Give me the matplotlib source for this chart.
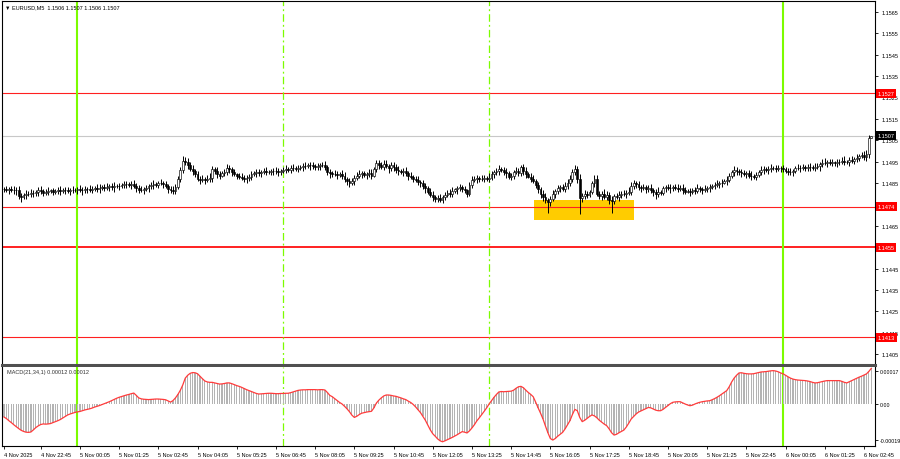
import matplotlib
matplotlib.use("Agg")
import matplotlib.pyplot as plt
import numpy as np
from matplotlib.patches import Rectangle
import matplotlib.transforms as mtransforms

plt.rcParams['font.family'] = ['Liberation Sans', 'DejaVu Sans']

# ---------------- data ----------------
BASE = 1.1400          # closes below are in 1e-5 above BASE
WICK_UNIT = 2.2e-5     # wick extensions are in this unit
first_open = 822
closes_pts = [
    820, 818, 822, 819, 816, 818,
    790, 785, 795, 800,
    798, 805, 802, 810, 815, 812, 805, 808, 812, 815, 810, 813, 816, 814, 818, 815, 812, 816, 819, 815, 820,
    818, 815, 820, 822, 819, 824, 826, 823, 828, 830, 827, 832, 834, 830, 836, 838, 835, 840, 843, 845, 841, 846,
    838, 825, 818, 815, 822, 828,
    835, 840, 845, 842, 848, 850, 845, 838,
    822, 815, 812,
    830, 870, 910, 955,
    950, 935, 915, 905, 890, 870, 865,
    868, 862, 870, 875,
    915,
    905, 890, 885, 895, 900, 920, 915, 900,
    890, 885, 880, 875, 868, 872, 880, 890,
    895, 900, 898, 902, 905, 903, 900, 904, 907, 905, 902, 906,
    910, 915, 912, 918, 920, 916, 920,
    925, 930, 928, 935, 932, 928, 925, 930, 935, 932, 925,
    900, 895, 890, 893, 888, 892, 885,
    870, 860, 850, 858,
    875, 885, 890, 895, 888, 892, 898, 885,
    915, 945, 935,
    925, 940, 930, 918, 935, 925, 910, 905,
    900, 905, 895, 885, 880, 870, 862, 855, 848, 835, 825, 810, 795, 785,
    775, 780, 772, 785,
    795, 805, 800, 812, 820, 825, 830, 822, 815, 800,
    840, 865, 870, 872, 868, 870, 873, 870, 875,
    890, 900, 905, 915, 910, 900, 895,
    880, 885, 900, 905, 895,
    925,
    905, 890, 880, 870, 860,
    840, 820, 800, 785, 770,
    760, 775,
    800, 812, 825, 830, 822, 835,
    850, 870, 900, 915,
    870, 780,
    790, 800, 795, 810,
    850, 870,
    800, 790,
    800, 785, 795,
    770, 765,
    790, 785, 795, 800, 798, 805, 810,
    835, 850, 845,
    830, 825, 830, 822, 828,
    815, 808, 800, 810, 805,
    825, 830, 828, 825, 830, 826, 822, 828,
    815, 810, 812, 808, 815, 812, 825,
    820, 818, 822, 825,
    830, 835, 840, 845, 848, 852, 858, 865,
    885, 900, 910,
    905, 900, 895, 892, 895,
    885, 882, 880, 886,
    900, 910, 915, 912,
    915, 918, 920, 916, 918, 922, 915,
    905, 902, 900, 908,
    918, 922, 920, 924, 921, 925, 923, 920, 925, 928,
    940, 945, 942, 948, 944, 946, 943, 948, 950,
    955, 950, 948, 958, 955, 960,
    968, 975, 980, 972, 985, 1062, 1070,
]
hi_ext = [
    5,7,4,6,8,5,9,6,4,7,5,8,6,4,7,9,5,6,8,4,
    6,5,7,9,4,6,8,5,7,4,6,9,5,7,4,8,6,5,9,7,
    4,6,8,5,7,9,4,6,5,8,7,4,6,9,5,7,8,4,6,5,
    7,9,4,6,8,5,7,4,6,9,8,5,6,9,8,7,6,8,5,7,
    6,8,5,7,9,6,4,8,7,5,6,9,7,5,8,4,6,7,5,8,
    5,7,4,6,8,5,7,9,4,6,5,8,7,4,6,9,5,7,8,4,
    6,5,7,9,4,6,8,5,7,4,6,9,5,7,4,8,6,5,9,7,
    4,6,8,5,7,9,4,6,5,8,7,5,5,6,5,7,8,4,6,5,
    7,9,4,6,8,5,7,4,6,9,5,8,6,4,7,9,5,6,8,4,
    6,5,7,9,4,6,8,5,7,4,6,9,5,7,4,8,6,5,9,7,
    4,6,8,5,7,9,4,6,5,8,7,5,6,9,5,7,8,4,6,5,
    7,9,4,6,8,5,7,4,6,9,8,7,6,9,6,9,5,8,6,4,
    5,8,7,5,6,9,7,5,8,4,6,7,5,8,6,9,8,6,5,7,
    5,7,4,6,8,5,7,9,4,6,5,8,7,4,6,9,5,7,8,4,
    6,5,7,9,4,6,8,5,7,4,6,9,5,7,4,8,6,5,9,7,
    4,6,8,5,7,9,4,6,5,8,7,4,6,9,5,7,8,4,6,5,
    7,9,4,6,8,5,7,4,6,9,5,8,6,4,7,9,5,6,8,4,
    6,5,7,9,4,6,8,5,7,4,6,9,8,5,0,
]
lo_ext = [
    6,4,8,5,7,9,6,11,5,8,4,6,7,5,9,6,8,4,7,5,
    8,5,6,9,4,7,5,8,6,4,7,5,9,6,8,4,7,5,6,8,
    5,7,4,8,6,9,5,7,4,6,8,5,9,6,8,6,4,7,5,9,
    6,8,5,7,4,9,6,8,5,7,6,4,6,5,7,8,5,9,6,4,
    8,5,7,4,6,9,5,7,8,4,6,5,9,7,4,8,5,6,7,9,
    5,7,4,8,6,9,5,7,4,6,8,5,9,6,4,7,5,8,6,4,
    7,5,8,6,4,9,5,7,6,8,4,7,5,9,6,4,8,5,7,6,
    8,9,5,7,4,6,8,5,9,6,7,4,6,8,5,7,4,9,6,8,
    5,7,4,8,6,9,5,7,4,6,8,5,9,6,4,8,6,6,5,6,
    7,5,8,6,4,9,5,7,6,7,4,7,5,9,6,4,8,5,7,6,
    8,5,7,4,6,9,5,7,8,4,6,5,9,7,4,8,5,6,7,9,
    8,6,22,7,5,9,6,8,4,7,5,6,8,5,9,35,8,6,7,5,
    6,8,5,7,9,4,6,8,24,7,5,9,6,4,8,5,7,6,9,5,
    7,4,8,6,5,9,12,7,4,6,8,5,9,6,4,7,5,8,6,4,
    8,5,7,4,6,9,5,7,8,4,6,5,9,7,4,8,5,6,7,9,
    5,7,4,8,6,9,5,7,4,6,8,5,9,6,4,7,5,8,6,4,
    7,5,8,6,4,9,5,7,6,8,4,7,5,9,6,4,8,5,7,6,
    8,6,5,7,4,9,6,8,5,7,4,6,9,8,0,
]
# MACD(21,34,1) values in 1e-6
macd_u = [
    -68,-76,-87,-97,-108,-118,-128,-137,-143,-147,-148,-146,-135,-123,-114,-107,-104,-105,-104,-102,
    -97,-92,-87,-81,-73,-65,-57,-52,-48,-44,-41,-39,-35,-31,-28,-25,-21,-16,-12,-8,
    -3,2,7,12,18,24,30,35,39,43,47,50,54,57,45,32,27,25,24,23,
    24,25,26,26,25,24,22,16,10,18,32,50,72,100,135,150,160,164,163,158,
    145,132,120,115,113,113,110,107,104,105,107,110,110,106,101,96,92,87,81,75,
    70,65,60,55,52,53,54,55,56,56,55,54,54,55,55,56,56,59,63,67,
    71,73,74,74,75,75,75,75,74,75,75,73,60,45,38,28,18,8,0,-12,
    -25,-40,-58,-70,-64,-55,-48,-45,-42,-40,-38,-20,5,20,32,42,47,47,45,42,
    40,36,32,27,23,15,8,-2,-15,-30,-45,-65,-85,-110,-135,-155,-168,-182,-192,-197,
    -192,-186,-180,-174,-167,-160,-152,-144,-147,-151,-140,-125,-108,-88,-72,-55,-38,-20,0,18,
    35,50,63,65,64,65,66,67,72,82,90,92,85,72,60,50,38,10,-20,-48,
    -78,-115,-150,-180,-188,-180,-168,-158,-148,-130,-108,-87,-55,-28,-35,-70,-92,-85,-75,-65,
    -57,-62,-72,-85,-95,-105,-113,-130,-150,-162,-158,-150,-143,-136,-120,-100,-78,-65,-52,-42,
    -36,-30,-24,-18,-20,-26,-32,-35,-35,-28,-18,-8,2,9,11,12,12,6,0,-5,
    -9,-6,0,5,9,12,14,16,17,22,28,35,43,52,61,70,90,115,135,150,
    162,163,160,158,157,157,158,161,164,167,168,169,171,173,174,172,168,162,157,150,
    142,135,130,127,125,124,123,122,120,117,113,110,111,114,117,120,122,122,122,122,
    122,122,118,113,110,116,122,128,134,140,145,151,157,170,186,
]

# time axis: bar 0 = 4 Nov 21:30 (M5)
time_tick_bars = [0] + [15 + 16 * k for k in range(22)]
time_tick_labels = ["4 Nov 2025",
    "4 Nov 22:45", "5 Nov 00:05", "5 Nov 01:25", "5 Nov 02:45", "5 Nov 04:05", "5 Nov 05:25",
    "5 Nov 06:45", "5 Nov 08:05", "5 Nov 09:25", "5 Nov 10:45", "5 Nov 12:05", "5 Nov 13:25",
    "5 Nov 14:45", "5 Nov 16:05", "5 Nov 17:25", "5 Nov 18:45", "5 Nov 20:05", "5 Nov 21:25",
    "5 Nov 22:45", "6 Nov 00:05", "6 Nov 01:25", "6 Nov 02:45"]
day_lines = [30, 318]          # 5 Nov 00:00, 6 Nov 00:00 (solid)
session_lines = [114, 198]     # 5 Nov 07:00, 5 Nov 14:00 (dashed)
levels = [1.1527, 1.1474, 1.1455, 1.1413]
level_labels = ["1.1527", "1.1474", "1.1455", "1.1413"]
bid_price = 1.1507
bid_label = "1.1507"
zone = (216.3, 257.2, 1.14677, 1.14771)  # bar from, bar to, price low, price high
price_ticks = [1.1405, 1.1415, 1.1425, 1.1435, 1.1445, 1.1465, 1.1485, 1.1495,
               1.1505, 1.1515, 1.1525, 1.1535, 1.1545, 1.1555, 1.1565]
macd_ticks = [0.00017, 0.0, -0.00019]
macd_tick_labels = ["0.00017", "0.00", "-0.00019"]

# ---------------- derived ----------------
closes = BASE + np.array(closes_pts) * 1e-5
opens = np.r_[BASE + first_open * 1e-5, closes[:-1]]
highs = np.maximum(opens, closes) + np.array(hi_ext) * WICK_UNIT
lows = np.minimum(opens, closes) - np.array(lo_ext) * WICK_UNIT
N = len(closes)
x = np.arange(N)
macd = np.array(macd_u) * 1e-6

W, H = 900, 460
fig = plt.figure(figsize=(9, 4.6), dpi=100)
fig.patch.set_facecolor('white')

ax1 = fig.add_axes([2 / W, (H - 366) / H, 873 / W, 364 / H])
ax2 = fig.add_axes([2 / W, (H - 447) / H, 873 / W, 79 / H])
XL = (-0.8, 355.5)
FS = 4.0
GREEN = '#7CFC00'

# main panel
ax1.set_xlim(*XL)
ax1.set_ylim(1.1400, 1.1570)
ax1.add_patch(Rectangle((zone[0], zone[2]), zone[1] - zone[0], zone[3] - zone[2],
                        facecolor='#FFCC00', edgecolor='none', zorder=1))
ax1.axhline(bid_price, color='#C8C8C8', lw=0.8, zorder=1.5)
for lv in levels:
    lw = 1.4 if lv == 1.1455 else 0.8
    ax1.axhline(lv, color='#FF2020', lw=lw, zorder=1.6)
for ax in (ax1, ax2):
    for d in day_lines:
        ax.axvline(d, color=GREEN, lw=1.5, zorder=1.7)
    for s in session_lines:
        ax.axvline(s, color=GREEN, lw=0.9, ls=(0, (6, 2.5, 1.5, 2.5)), zorder=1.7)

ax1.vlines(x, lows, highs, color='black', lw=0.7, zorder=3)
bull = closes >= opens
ax1.bar(x, closes - opens, bottom=opens, width=0.75,
        color=np.where(bull, 'white', 'black'), edgecolor='black', linewidth=0.45, zorder=4)

ax1.set_xticks([])
ax1.set_yticks(price_ticks)
ax1.set_yticklabels([f"{t:.4f}" for t in price_ticks])
ax1.tick_params(axis='y', which='both', left=False, right=True, labelleft=False,
                labelright=True, direction='out', length=2.5, width=0.6,
                labelsize=FS, pad=2, colors='black')
for s in ('left', 'right', 'top'):
    ax1.spines[s].set_color('black')
    ax1.spines[s].set_linewidth(0.8)
ax1.spines['bottom'].set_color('#505050')
ax1.spines['bottom'].set_linewidth(2.2)

tr = mtransforms.blended_transform_factory(ax1.transAxes, ax1.transData)
for lv, lab in zip(levels, level_labels):
    ax1.text(1.0 + 2.5 / 873, lv, lab, transform=tr, ha='left', va='center', fontsize=FS,
             color='white', clip_on=False, zorder=10,
             bbox=dict(boxstyle='square,pad=0.35', fc='#FF0000', ec='none'))
ax1.text(1.0 + 2.5 / 873, bid_price, bid_label, transform=tr, ha='left', va='center',
         fontsize=FS, color='white', clip_on=False, zorder=10,
         bbox=dict(boxstyle='square,pad=0.35', fc='black', ec='none'))

fig.text(5 / W, 1 - 8 / H, "\u25BC EURUSD,M5  1.1506 1.1507 1.1506 1.1507", fontsize=FS,
         va='center', ha='left', color='black')

# MACD panel
ax2.set_xlim(*XL)
ax2.set_ylim(-219e-6, 193e-6)
ax2.bar(x, macd, width=0.5, color='#B4B4B4', zorder=2)
ax2.plot(x, macd, color='#FF3B3B', lw=0.9, zorder=3)
ax2.set_yticks(macd_ticks)
ax2.set_yticklabels(macd_tick_labels)
ax2.tick_params(axis='y', which='both', left=False, right=True, labelleft=False,
                labelright=True, direction='out', length=2, width=0.6,
                labelsize=3.8, pad=1.2)
ax2.set_xticks(time_tick_bars)
ax2.set_xticklabels(time_tick_labels)
ax2.tick_params(axis='x', direction='out', length=2.5, width=0.6, labelsize=FS, pad=1.5)
for lab in ax2.get_xticklabels():
    lab.set_horizontalalignment('left')
ax2.spines['top'].set_visible(False)
for s in ('left', 'right', 'bottom'):
    ax2.spines[s].set_color('black')
    ax2.spines[s].set_linewidth(0.8)
ax2.text(5 / 873, 1 - 5 / 79, "MACD(21,34,1) 0.00012 0.00012", transform=ax2.transAxes,
         fontsize=FS, ha='left', va='center', color='#333333')

fig.savefig("out.png", dpi=100)
